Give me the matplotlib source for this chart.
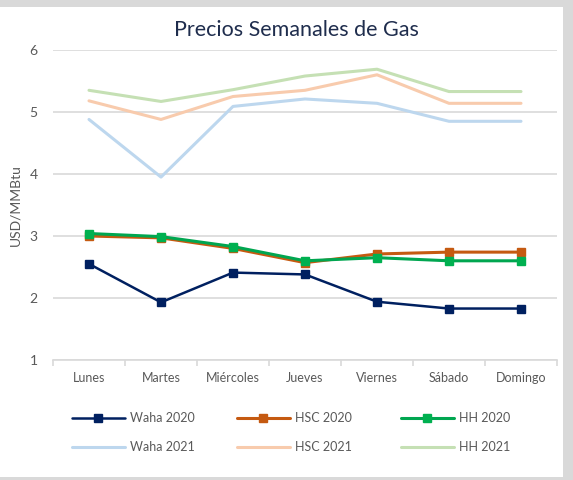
import matplotlib
matplotlib.use("Agg")
import matplotlib.pyplot as plt
from matplotlib.patches import Rectangle

days = ["Lunes", "Martes", "Miércoles", "Jueves", "Viernes", "Sábado", "Domingo"]
waha_2020 = [2.55, 1.93, 2.41, 2.38, 1.94, 1.83, 1.83]
hsc_2020 = [3.00, 2.97, 2.80, 2.57, 2.71, 2.74, 2.74]
hh_2020 = [3.04, 2.99, 2.83, 2.60, 2.65, 2.60, 2.60]
waha_2021 = [4.88, 3.95, 5.09, 5.21, 5.14, 4.85, 4.85]
hsc_2021 = [5.18, 4.88, 5.25, 5.35, 5.60, 5.14, 5.14]
hh_2021 = [5.35, 5.17, 5.36, 5.58, 5.69, 5.33, 5.33]
yticks = [1, 2, 3, 4, 5, 6]

plt.rcParams['font.family'] = ['Lato', 'DejaVu Sans']
W, H = 573, 480
fig = plt.figure(figsize=(W / 100, H / 100), dpi=100)
fig.patch.set_facecolor('#d9d9d9')
fig.patches.append(Rectangle((0, 3 / H), 563 / W, 470 / H, transform=fig.transFigure,
                             facecolor='white', edgecolor='none', zorder=-10))

ax = fig.add_axes([53 / W, (H - 360) / H, 504 / W, 310 / H])
ax.set_facecolor('none')
ax.set_zorder(1)
x = list(range(len(days)))

series = [
    ("Waha 2020", waha_2020, '#002060', '#002060', 1.8, True),
    ("HSC 2020", hsc_2020, '#c55a11', '#c55a11', 2.2, True),
    ("HH 2020", hh_2020, '#00a650', '#00b050', 2.2, True),
    ("Waha 2021", waha_2021, '#bdd7ee', None, 2.2, False),
    ("HSC 2021", hsc_2021, '#f8cbad', None, 2.2, False),
    ("HH 2021", hh_2021, '#c5e0b4', None, 2.2, False),
]
handles = []
for name, vals, col, mcol, lw, mk in series:
    if mk:
        h, = ax.plot(x, vals, color=col, lw=lw, marker='s', markersize=5.3,
                     markerfacecolor=mcol, markeredgecolor=mcol, label=name,
                     solid_capstyle='round', solid_joinstyle='round')
    else:
        h, = ax.plot(x, vals, color=col, lw=lw, label=name,
                     solid_capstyle='round', solid_joinstyle='round')
    handles.append(h)

ax.set_xlim(-0.5, 6.5)
ax.set_ylim(1, 6)
ax.set_yticks(yticks)
ax.set_xticks(x)
ax.set_xticklabels(days)
ax.set_xticks([i - 0.5 for i in range(len(days) + 1)], minor=True)
for s in ['top', 'right', 'left']:
    ax.spines[s].set_visible(False)
ax.spines['bottom'].set_color('#d9d9d9')
ax.spines['bottom'].set_linewidth(1.2)
ax.grid(axis='y', color='#d9d9d9', lw=1.2)
ax.set_axisbelow(True)
ax.tick_params(axis='y', length=0, pad=11, labelsize=10, labelcolor='#595959')
ax.tick_params(axis='x', which='major', length=0, pad=9, labelsize=9, labelcolor='#595959')
ax.tick_params(axis='x', which='minor', length=4, color='#d9d9d9', width=1.2, direction='out')

fig.text(15 / W, 1 - 205 / H, "USD/MMBtu", rotation=90, ha='center', va='center',
         fontsize=10, color='#595959')
fig.text(296 / W, 1 - 30 / H, "Precios Semanales de Gas", ha='center', va='center',
         fontsize=15.5, color='#1f2d4d')

col_x = [72, 237, 401]
for i in range(3):
    leg = fig.legend(handles=[handles[i], handles[i + 3]], loc='upper left',
                     bbox_to_anchor=(col_x[i] / W, 1 - 412 / H), frameon=False,
                     borderpad=0, borderaxespad=0, handlelength=4.2, handletextpad=0.45,
                     labelspacing=1.35, fontsize=9, markerscale=1.0)
    for t in leg.get_texts():
        t.set_color('#595959')

fig.savefig("out.png", dpi=100, facecolor=fig.get_facecolor())
